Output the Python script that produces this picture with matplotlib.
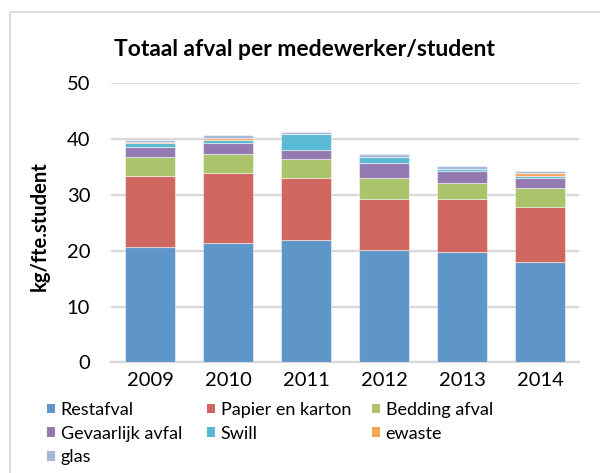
import matplotlib
matplotlib.use("Agg")
import matplotlib.pyplot as plt
import numpy as np
from matplotlib.patches import Patch, Rectangle

plt.rcParams['font.family'] = ['Lato', 'DejaVu Sans']

years = ['2009', '2010', '2011', '2012', '2013', '2014']

# kg per fte/student
restafval = [20.6, 21.4, 21.9, 20.1, 19.7, 17.9]
papier = [12.9, 12.5, 11.1, 9.1, 9.5, 9.9]
bedding = [3.4, 3.5, 3.5, 3.9, 3.0, 3.5]
gevaarlijk = [1.8, 2.0, 1.6, 2.6, 2.1, 1.7]
swill = [0.7, 0.4, 2.8, 1.2, 0.4, 0.5]
ewaste = [0.05, 0.5, 0.1, 0.0, 0.05, 0.4]
glas = [0.5, 0.5, 0.3, 0.5, 0.45, 0.4]

series = [
    ('Restafval', restafval, '#5F96C9'),
    ('Papier en karton', papier, '#CF665F'),
    ('Bedding afval', bedding, '#ABC46C'),
    ('Gevaarlijk avfal', gevaarlijk, '#937BB1'),
    ('Swill', swill, '#5BBAD3'),
    ('ewaste', ewaste, '#F9A65A'),
    ('glas', glas, '#A4B9DC'),
]

fig = plt.figure(figsize=(6, 4.73), dpi=100)
ax = fig.add_axes([111 / 600, 1 - 362.3 / 473, 468 / 600, 278.8 / 473])

x = np.arange(len(years))
bottom = np.zeros(len(years))
handles = {}
for name, vals, col in series:
    ax.bar(x, vals, width=0.65, bottom=bottom, color=col,
           edgecolor=(1, 1, 1, 0.45), linewidth=0.8, zorder=3)
    bottom += np.array(vals)
    handles[name] = Patch(facecolor=col, edgecolor='none')

ax.set_xlim(-0.5, len(years) - 0.5)
ax.set_ylim(0, 50)
ax.set_yticks(range(0, 51, 10))
ax.set_xticks(x)
ax.set_xticklabels(years)
ax.grid(axis='y', color='#D9D9D9', linewidth=1.6, zorder=0)
for s in ['top', 'right', 'left']:
    ax.spines[s].set_visible(False)
ax.spines['bottom'].set_color('#D9D9D9')
ax.spines['bottom'].set_linewidth(1.6)
ax.tick_params(axis='both', length=0, labelsize=14.5)
ax.tick_params(axis='y', pad=15)
ax.tick_params(axis='x', pad=7)

fig.text(304.5 / 600, 1 - 56 / 473, 'Totaal afval per medewerker/student',
         ha='center', va='baseline', fontsize=16.5, fontweight='bold')
fig.text(40 / 600, 1 - 226 / 473, 'kg/fte.student', rotation=90,
         ha='center', va='center', fontsize=14.5, fontweight='bold')

# legend in three columns, filled row by row
cols = [
    (47, ['Restafval', 'Gevaarlijk avfal', 'glas']),
    (207, ['Papier en karton', 'Swill']),
    (372, ['Bedding afval', 'ewaste']),
]
for xpos, names in cols:
    leg = fig.legend([handles[n] for n in names], names,
                     loc='upper left', bbox_to_anchor=(xpos / 600, 1 - 402 / 473),
                     frameon=False, fontsize=13, handlelength=0.45, handleheight=0.45,
                     handletextpad=0.3, labelspacing=0.42, borderpad=0, borderaxespad=0)

fig.patches.append(Rectangle((9.5 / 600, -0.2), 1.2, 1.2 - 11.7 / 473,
                             transform=fig.transFigure, fill=False,
                             edgecolor='#D9D9D9', linewidth=1.2))

fig.savefig('out.png', dpi=100)
